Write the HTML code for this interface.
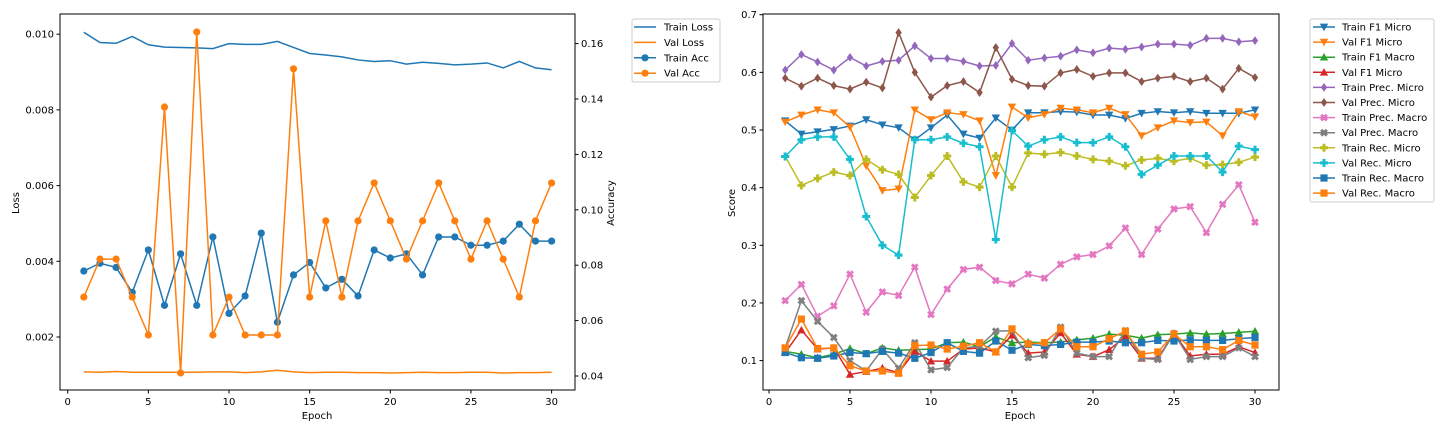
<!DOCTYPE html>
<html><head><meta charset="utf-8"><style>
html,body{margin:0;padding:0;background:#fff;}
svg{display:block;font-family:"DejaVu Sans","Liberation Sans",sans-serif;}
</style></head><body>
<svg id="chart" width="1440" height="432" viewBox="0 0 1440 432" xmlns="http://www.w3.org/2000/svg"></svg>
<script>
const epochs = Array.from({length:30},(_,i)=>i+1);
const trainLoss = [0.01005,0.00978,0.00976,0.00994,0.00972,0.00966,0.00965,0.00964,0.00962,0.00975,0.00973,0.00973,0.00981,0.00965,0.00949,0.00945,0.00940,0.00932,0.00928,0.00930,0.00921,0.00926,0.00923,0.00919,0.00921,0.00924,0.00911,0.00928,0.00911,0.00906];
const valLoss = [0.00108,0.00107,0.00109,0.00107,0.00107,0.00107,0.00107,0.00107,0.00108,0.00108,0.00106,0.00108,0.00112,0.00108,0.00106,0.00107,0.00107,0.00106,0.00106,0.00105,0.00106,0.00107,0.00106,0.00106,0.00107,0.00107,0.00105,0.00106,0.00106,0.00107];
const trainAcc = [0.0779,0.0807,0.0792,0.0702,0.0855,0.0655,0.0841,0.0655,0.0902,0.0626,0.0689,0.0916,0.0594,0.0765,0.0810,0.0718,0.0749,0.0689,0.0855,0.0826,0.0841,0.0765,0.0902,0.0902,0.0872,0.0872,0.0887,0.0948,0.0887,0.0887];
const valAcc = [0.0685,0.0822,0.0822,0.0685,0.0548,0.1371,0.0411,0.1642,0.0548,0.0685,0.0548,0.0548,0.0548,0.1509,0.0685,0.0960,0.0685,0.0960,0.1097,0.0960,0.0822,0.0960,0.1097,0.0960,0.0822,0.0960,0.0822,0.0685,0.0960,0.1097];
const lossTicks = [0.002,0.004,0.006,0.008,0.010];
const accTicks = [0.04,0.06,0.08,0.10,0.12,0.14,0.16];
const epochTicks = [0,5,10,15,20,25,30];
const scoreTicks = [0.1,0.2,0.3,0.4,0.5,0.6,0.7];

const trainF1Micro = [0.516,0.493,0.497,0.501,0.507,0.518,0.509,0.504,0.483,0.504,0.526,0.493,0.486,0.521,0.500,0.530,0.530,0.532,0.531,0.526,0.526,0.520,0.529,0.532,0.530,0.532,0.529,0.529,0.529,0.535];
const valF1Micro = [0.514,0.526,0.535,0.530,0.505,0.438,0.395,0.398,0.535,0.518,0.530,0.527,0.516,0.421,0.540,0.521,0.527,0.538,0.535,0.530,0.538,0.527,0.490,0.504,0.516,0.513,0.514,0.490,0.532,0.523];
const trainF1Macro = [0.116,0.111,0.105,0.111,0.121,0.112,0.122,0.118,0.119,0.120,0.131,0.132,0.124,0.141,0.131,0.132,0.131,0.132,0.136,0.139,0.146,0.144,0.139,0.145,0.146,0.148,0.146,0.147,0.149,0.151];
const valF1Macro = [0.114,0.153,0.120,0.122,0.076,0.081,0.087,0.079,0.116,0.099,0.099,0.120,0.122,0.115,0.144,0.113,0.115,0.148,0.111,0.107,0.119,0.141,0.104,0.104,0.147,0.108,0.111,0.111,0.124,0.114];
const trainPrecMicro = [0.604,0.631,0.618,0.604,0.626,0.611,0.619,0.621,0.646,0.624,0.624,0.619,0.611,0.612,0.650,0.621,0.625,0.628,0.639,0.634,0.642,0.640,0.644,0.649,0.649,0.647,0.659,0.659,0.653,0.655];
const valPrecMicro = [0.590,0.576,0.590,0.577,0.571,0.583,0.573,0.669,0.600,0.557,0.577,0.584,0.565,0.643,0.588,0.577,0.576,0.599,0.605,0.593,0.599,0.599,0.584,0.590,0.593,0.584,0.590,0.571,0.607,0.591];
const trainPrecMacro = [0.204,0.232,0.177,0.195,0.250,0.184,0.219,0.213,0.262,0.180,0.224,0.258,0.262,0.239,0.233,0.250,0.243,0.267,0.280,0.284,0.299,0.330,0.284,0.328,0.363,0.367,0.322,0.371,0.405,0.340];
const valPrecMacro = [0.122,0.204,0.168,0.140,0.100,0.082,0.120,0.087,0.131,0.084,0.088,0.122,0.125,0.151,0.152,0.105,0.109,0.158,0.113,0.107,0.107,0.152,0.104,0.102,0.147,0.102,0.107,0.107,0.122,0.107];
const trainRecMicro = [0.454,0.404,0.416,0.427,0.421,0.449,0.431,0.423,0.383,0.421,0.455,0.410,0.401,0.455,0.401,0.460,0.458,0.461,0.455,0.449,0.446,0.438,0.448,0.451,0.446,0.451,0.439,0.440,0.444,0.453];
const valRecMicro = [0.454,0.483,0.488,0.488,0.449,0.350,0.300,0.283,0.483,0.483,0.488,0.477,0.471,0.310,0.499,0.472,0.483,0.488,0.478,0.478,0.488,0.471,0.423,0.439,0.455,0.455,0.455,0.427,0.472,0.466];
const trainRecMacro = [0.114,0.105,0.104,0.108,0.114,0.112,0.116,0.113,0.104,0.114,0.131,0.116,0.113,0.134,0.118,0.128,0.126,0.128,0.132,0.132,0.134,0.131,0.131,0.135,0.134,0.136,0.135,0.135,0.138,0.140];
const valRecMacro = [0.122,0.172,0.121,0.122,0.091,0.082,0.082,0.078,0.126,0.127,0.120,0.125,0.131,0.115,0.155,0.129,0.131,0.155,0.124,0.124,0.138,0.151,0.111,0.115,0.146,0.124,0.124,0.119,0.135,0.127];

const NS="http://www.w3.org/2000/svg";
const svg=document.getElementById('chart');
function el(tag,attrs,parent){const e=document.createElementNS(NS,tag);for(const k in attrs)e.setAttribute(k,attrs[k]);(parent||svg).appendChild(e);return e;}
function txt(s,attrs,parent){const t=el('text',attrs,parent);t.textContent=s;return t;}

// axes functions
const Lx=e=>67.7+e*16.13;
const Ly=v=>337-(v-0.002)/0.002*75.7;
const Ay=v=>376-(v-0.04)/0.02*55.4;
const Rx=e=>769+e*16.2;
const Ry=v=>14.7+(0.7-v)/0.1*57.65;

function marker(type,x,y,c,g){
  const s=4.2;
  let m;
  if(type==='o') m=el('circle',{cx:x,cy:y,r:3.6,fill:c},g);
  else if(type==='v') m=el('polygon',{points:`${x-s},${y-s*0.8} ${x+s},${y-s*0.8} ${x},${y+s}`,fill:c},g);
  else if(type==='^') m=el('polygon',{points:`${x-s},${y+s*0.8} ${x+s},${y+s*0.8} ${x},${y-s}`,fill:c},g);
  else if(type==='d') m=el('polygon',{points:`${x},${y-s*1.05} ${x+s*0.75},${y} ${x},${y+s*1.05} ${x-s*0.75},${y}`,fill:c},g);
  else if(type==='s') m=el('rect',{x:x-3.6,y:y-3.6,width:7.2,height:7.2,fill:c},g);
  else if(type==='P'){const a=1.5,b=4;m=el('polygon',{points:`${x-a},${y-b} ${x+a},${y-b} ${x+a},${y-a} ${x+b},${y-a} ${x+b},${y+a} ${x+a},${y+a} ${x+a},${y+b} ${x-a},${y+b} ${x-a},${y+a} ${x-b},${y+a} ${x-b},${y-a} ${x-a},${y-a}`,fill:c},g);}
  else if(type==='X'){const a=1.5,b=4;m=el('polygon',{points:`${x-a},${y-b} ${x+a},${y-b} ${x+a},${y-a} ${x+b},${y-a} ${x+b},${y+a} ${x+a},${y+a} ${x+a},${y+b} ${x-a},${y+b} ${x-a},${y+a} ${x-b},${y+a} ${x-b},${y-a} ${x-a},${y-a}`,fill:c,transform:`rotate(45 ${x} ${y})`},g);}
  return m;
}
function series(name,data,fx,fy,c,mk){
  const g=el('g',{});
  
  
  el('polyline',{points:data.map((v,i)=>fx(epochs[i])+','+fy(v)).join(' '),fill:'none',stroke:c,'stroke-width':1.5},g);
  if(mk) data.forEach((v,i)=>{const m=marker(mk,fx(epochs[i]),fy(v),c,g);
    
    });
}
function frame(x0,y0,x1,y1,name){
  const r=el('rect',{x:x0,y:y0,width:x1-x0,height:y1-y0,fill:'none',stroke:'#000','stroke-width':1});
  
  
}
const ts={'font-size':10,fill:'#000'};

// ---- LEFT ----
epochTicks.forEach(t=>{const x=Lx(t);el('line',{x1:x,y1:390,x2:x,y2:393.5,stroke:'#000'});
  const l=txt(String(t),{...ts,x:x,y:405,'text-anchor':'middle'});
  
  });
lossTicks.forEach(t=>{const y=Ly(t);el('line',{x1:56.5,y1:y,x2:60,y2:y,stroke:'#000'});
  const l=txt(t.toFixed(3),{...ts,x:54,y:y+3.5,'text-anchor':'end'});
  
  });
accTicks.forEach(t=>{const y=Ay(t);el('line',{x1:575,y1:y,x2:578.5,y2:y,stroke:'#000'});
  const l=txt(t.toFixed(2),{...ts,x:581,y:y+3.5});
  
  });
let t1=txt('Epoch',{...ts,x:317,y:419,'text-anchor':'middle'});

let t2=txt('Loss',{...ts,x:19,y:203,'text-anchor':'middle',transform:'rotate(-90 19 203)'});

let t3=txt('Accuracy',{...ts,x:614,y:203,'text-anchor':'middle',transform:'rotate(-90 614 203)'});

series('train-loss-line',trainLoss,Lx,Ly,'#1f77b4',null);
series('val-loss-line',valLoss,Lx,Ly,'#ff7f0e',null);
series('train-acc-line',trainAcc,Lx,Ay,'#1f77b4','o');
series('val-acc-line',valAcc,Lx,Ay,'#ff7f0e','o');
frame(60,14,575,390,'left-plot-area');

function legend(x0,y0,w,h,items,x1,textx,sp,name){
  const g=el('g',{});
  
  
  el('rect',{x:x0,y:y0,width:w,height:h,fill:'#fff',stroke:'#ccc',rx:2},g);
  items.forEach((it,i)=>{const y=y0+8+i*sp;
    const e=el('g',{},g);
    
    
    el('line',{x1:x1,y1:y,x2:x1+22,y2:y,stroke:it[1],'stroke-width':1.5},e);
    if(it[2]) marker(it[2],x1+11,y,it[1],e);
    txt(it[0],{...ts,x:textx,y:y+3.5},e);});
}
legend(632,19,88,63,[['Train Loss','#1f77b4'],['Val Loss','#ff7f0e'],['Train Acc','#1f77b4','o'],['Val Acc','#ff7f0e','o']],634,664,15.4,'left-legend');

// ---- RIGHT ----
epochTicks.forEach(t=>{const x=Rx(t);el('line',{x1:x,y1:390,x2:x,y2:393.5,stroke:'#000'});
  const l=txt(String(t),{...ts,x:x,y:405,'text-anchor':'middle'});
  
  });
scoreTicks.forEach(t=>{const y=Ry(t);el('line',{x1:759.5,y1:y,x2:763,y2:y,stroke:'#000'});
  const l=txt(t.toFixed(1),{...ts,x:757,y:y+3.5,'text-anchor':'end'});
  
  });
let t4=txt('Epoch',{...ts,x:1020,y:419,'text-anchor':'middle'});

let t5=txt('Score',{...ts,x:735,y:203,'text-anchor':'middle',transform:'rotate(-90 735 203)'});

const rs=[
 ['Train F1 Micro',trainF1Micro,'#1f77b4','v'],
 ['Val F1 Micro',valF1Micro,'#ff7f0e','v'],
 ['Train F1 Macro',trainF1Macro,'#2ca02c','^'],
 ['Val F1 Micro',valF1Macro,'#d62728','^'],
 ['Train Prec. Micro',trainPrecMicro,'#9467bd','d'],
 ['Val Prec. Micro',valPrecMicro,'#8c564b','d'],
 ['Train Prec. Macro',trainPrecMacro,'#e377c2','X'],
 ['Val Prec. Macro',valPrecMacro,'#7f7f7f','X'],
 ['Train Rec. Micro',trainRecMicro,'#bcbd22','P'],
 ['Val Rec. Micro',valRecMicro,'#17becf','P'],
 ['Train Rec. Macro',trainRecMacro,'#1f77b4','s'],
 ['Val Rec. Macro',valRecMacro,'#ff7f0e','s']];
rs.forEach((s,i)=>series('score-series-'+(i+1),s[1],Rx,Ry,s[2],s[3]));
frame(763,14,1279,390,'right-plot-area');
legend(1310,19,124,183,rs.map(s=>[s[0],s[2],s[3]]),1313,1342,15.1,'right-legend');
</script>
</body></html>
